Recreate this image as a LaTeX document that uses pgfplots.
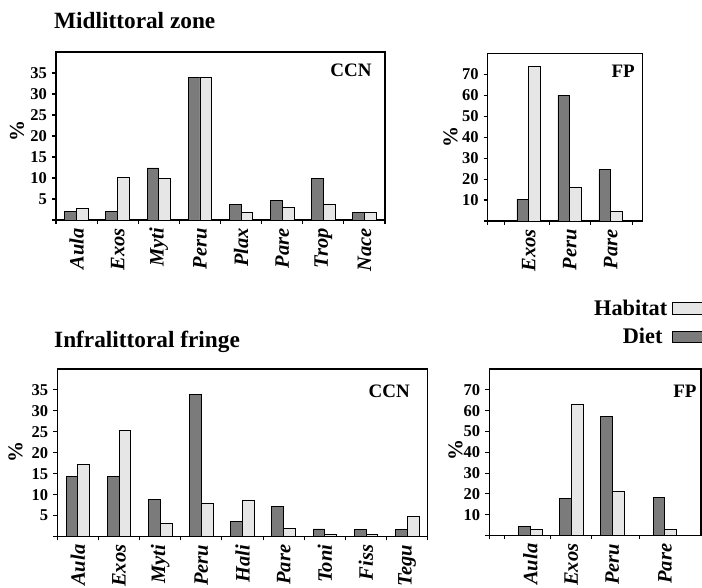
\documentclass[border=0pt]{standalone}
\usepackage{fontspec}
\setmainfont{Liberation Serif}
\usepackage{pgfplots}
\pgfplotsset{compat=1.18}
\definecolor{diet}{HTML}{7B7B7B}
\definecolor{hab}{HTML}{E6E6E6}
\pgfplotsset{
  panel/.style={
    scale only axis,
    axis line style={line width=1.3pt},
    ymin=0,
    tick align=outside,
    major tick length=4pt,
    tick style={line width=1.1pt, black},
    ytick pos=left, xtick pos=bottom,
    /pgf/number format/assume math mode=true,
    yticklabel style={font=\fontsize{16.5}{16.5}\selectfont\bfseries, inner sep=0pt},
    yticklabel shift=5pt,
    extra y ticks={0}, extra y tick labels={},
    xticklabels={},
    xticklabel style={rotate=90, anchor=east, font=\fontsize{20.5}{20.5}\selectfont\bfseries\itshape, inner sep=0pt},
    xticklabel shift=8pt,
    extra x tick style={major tick length=0pt},
  },
  dietbar/.style={ybar, bar width=11.8pt, bar shift=-5.9pt, fill=diet, draw=black, line width=0.8pt},
  habbar/.style={ybar, bar width=11.8pt, bar shift=5.9pt, fill=hab, draw=black, line width=0.8pt},
}
\begin{document}
\begin{tikzpicture}[x=1pt,y=1pt]
\useasboundingbox (0,0) rectangle (702,588);
\coordinate (p1) at (56,368);
\coordinate (p2) at (487.7,367);
\coordinate (p3) at (57.3,51.5);
\coordinate (p4) at (489.3,52.5);
% ---- Midlittoral CCN
\begin{axis}[panel, at={(p1)}, anchor=south west, width=329pt, height=168pt,
  xmin=-0.5, xmax=7.5, ymax=40, ytick={5,10,...,35},
  xtick={-0.5,0.5,...,7.5},
  extra x ticks={0,1,...,7},
  extra x tick labels={Aula,Exos,Myti,Peru,Plax,Pare,Trop,Nace}]
\addplot[dietbar] coordinates {(0,2.0) (1,2.0) (2,12.4) (3,34) (4,3.6) (5,4.6) (6,9.8) (7,1.8)};
\addplot[habbar] coordinates {(0,2.7) (1,10.2) (2,9.8) (3,34) (4,1.8) (5,3.0) (6,3.8) (7,1.8)};
\end{axis}
% ---- Midlittoral FP
\begin{axis}[panel, at={(p2)}, anchor=south west, width=154.6pt, height=167.7pt,
  xmin=0, xmax=3.77, ymax=80, ytick={10,20,...,70},
  xtick={0,0.42,1.5,2.5,3.53},
  extra x ticks={1,2,3},
  extra x tick labels={Exos,Peru,Pare}]
\addplot[dietbar] coordinates {(1,10.4) (2,60) (3,24.5)};
\addplot[habbar] coordinates {(1,73.8) (2,16) (3,4.5)};
\end{axis}
% ---- Infralittoral CCN
\begin{axis}[panel, at={(p3)}, anchor=south west, width=370.4pt, height=167.5pt,
  xmin=-0.5, xmax=8.5, ymax=40, ytick={5,10,...,35},
  xtick={-0.5,0.5,...,8.5},
  extra x ticks={0,1,...,8},
  extra x tick labels={Aula,Exos,Myti,Peru,Hali,Pare,Toni,Fiss,Tegu}]
\addplot[dietbar] coordinates {(0,14.4) (1,14.4) (2,8.9) (3,34.0) (4,3.7) (5,7.1) (6,1.8) (7,1.7) (8,1.7)};
\addplot[habbar] coordinates {(0,17.1) (1,25.3) (2,3.2) (3,8.0) (4,8.7) (5,1.9) (6,0.6) (7,0.55) (8,4.8)};
\end{axis}
% ---- Infralittoral FP
\begin{axis}[panel, at={(p4)}, anchor=south west, width=211.7pt, height=166.5pt,
  xmin=0, xmax=5.16, ymax=80, ytick={10,20,...,70},
  xtick={0,0.38,1.5,2.5,3.66},
  extra x ticks={1,2,3,4.28},
  extra x tick labels={Aula,Exos,Peru,Pare}]
\addplot[dietbar] coordinates {(1,4.5) (2,17.8) (3,57) (4.28,18.1)};
\addplot[habbar] coordinates {(1,2.7) (2,63.2) (3,21.4) (4.28,3.0)};
\end{axis}
% ---- texts
\node[anchor=base west, inner sep=0pt, font=\fontsize{23.3}{23.3}\selectfont\bfseries] at (54,559.5) {Midlittoral zone};
\node[anchor=base west, inner sep=0pt, font=\fontsize{23.3}{23.3}\selectfont\bfseries] at (54,240) {Infralittoral fringe};
\node[anchor=base east, inner sep=0pt, font=\fontsize{19}{19}\selectfont\bfseries] at (371.7,511.3) {CCN};
\node[anchor=base east, inner sep=0pt, font=\fontsize{19}{19}\selectfont\bfseries] at (410,190) {CCN};
\node[anchor=base east, inner sep=0pt, font=\fontsize{19}{19}\selectfont\bfseries] at (635,510.7) {FP};
\node[anchor=base east, inner sep=0pt, font=\fontsize{19}{19}\selectfont\bfseries] at (696.7,190.3) {FP};
\node[rotate=90, inner sep=0pt, font=\fontsize{21}{21}\selectfont\bfseries] at (17,457) {\%};
\node[rotate=90, inner sep=0pt, font=\fontsize{21}{21}\selectfont\bfseries] at (450.5,451) {\%};
\node[rotate=90, inner sep=0pt, font=\fontsize{21}{21}\selectfont\bfseries] at (15.5,136) {\%};
\node[rotate=90, inner sep=0pt, font=\fontsize{21}{21}\selectfont\bfseries] at (455.5,138) {\%};
% ---- legend
\node[anchor=base east, inner sep=0pt, font=\fontsize{22.3}{22.3}\selectfont\bfseries] at (667.5,272) {Habitat};
\node[anchor=base east, inner sep=0pt, font=\fontsize{22.3}{22.3}\selectfont\bfseries] at (662.7,244.7) {Diet};
\draw[fill=hab, line width=0.9pt] (672.7,274) rectangle (715,285.3);
\draw[fill=diet, line width=0.9pt] (672.7,245.3) rectangle (715,257);
\end{tikzpicture}
\end{document}
